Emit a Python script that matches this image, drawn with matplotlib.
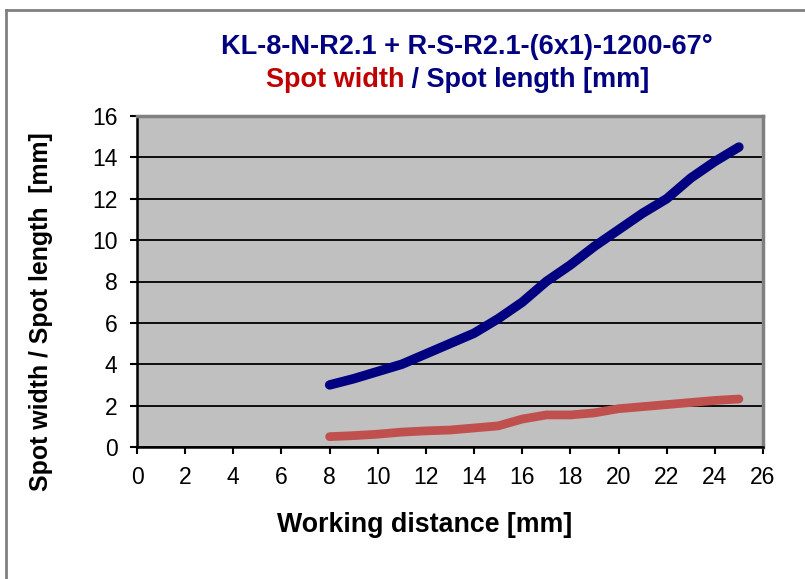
import numpy as np
from matplotlib import pyplot as plt
from matplotlib.lines import Line2D

## data
distance = [8, 9, 10, 11, 12, 13, 14, 15, 16, 17, 18, 19, 20, 21, 22, 23, 24, 25]
spot_length = [3.0, 3.3, 3.65, 4.0, 4.5, 5.0, 5.5, 6.2, 7.0, 8.0, 8.8, 9.7,
               10.5, 11.3, 12.0, 13.0, 13.8, 14.5]
spot_width = [0.5, 0.55, 0.62, 0.72, 0.78, 0.82, 0.92, 1.02, 1.35, 1.55, 1.55,
              1.65, 1.85, 1.95, 2.05, 2.15, 2.25, 2.32]
xticks = np.arange(0, 27, 2)
yticks = np.arange(0, 17, 2)

navy = '#000080'
red = '#C0504D'
title_red = '#C00000'

plt.rcParams['font.family'] = ['Liberation Sans', 'DejaVu Sans']

W, H = 805, 579
fig = plt.figure(figsize=(W/100, H/100), dpi=100)
ax = fig.add_axes([137/W, 1-447/H, (763-137)/W, (447-116)/H])
ax.set_facecolor('#C0C0C0')

ax.plot(distance, spot_length, color=navy, lw=6.8, solid_capstyle='round',
        solid_joinstyle='round', zorder=3)
ax.plot(distance, spot_width, color=red, lw=6.3, solid_capstyle='round',
        solid_joinstyle='round', zorder=3)

ax.set_xlim(0, 26)
ax.set_ylim(0, 16)
ax.set_xticks(xticks)
ax.set_yticks(yticks)
ax.yaxis.grid(True, color='black', lw=1.3)
ax.set_axisbelow(True)
ax.tick_params(direction='out', length=5, width=1.5, labelsize=16.5)
ax.tick_params(axis='x', pad=9)
ax.tick_params(axis='y', pad=9)

for s in ['left', 'bottom']:
    ax.spines[s].set_color('black')
    ax.spines[s].set_linewidth(1.8)
for s in ['top', 'right']:
    ax.spines[s].set_color('#808080')
    ax.spines[s].set_linewidth(2.5)

ax.set_xlabel('Working distance [mm]', fontsize=19.3, fontweight='bold', labelpad=18.5)
ax.xaxis.set_label_coords(0.459, -0.196)
ax.set_ylabel('Spot width / Spot length  [mm]', fontsize=17.9, fontweight='bold')
ax.yaxis.set_label_coords(-0.134, 0.409)

## two-line title, second line in two colours
fig.text(467/W, 1-47/H, 'KL-8-N-R2.1 + R-S-R2.1-(6x1)-1200-67°', color=navy,
         fontsize=19.5, fontweight='bold', ha='center', va='center')
fig.text(404/W, 1-80/H, 'Spot width', color=title_red,
         fontsize=19.5, fontweight='bold', ha='right', va='center')
fig.text(404/W, 1-80/H, ' / Spot length [mm]', color=navy,
         fontsize=19.5, fontweight='bold', ha='left', va='center')

## chart frame (only left and top edges visible)
fig.add_artist(Line2D([6/W, 6/W], [0, 1-10/H], color='#808080', lw=2,
                      transform=fig.transFigure))
fig.add_artist(Line2D([6/W, 1], [1-10/H, 1-10/H], color='#808080', lw=2,
                      transform=fig.transFigure))

plt.savefig('out.png', dpi=100)
